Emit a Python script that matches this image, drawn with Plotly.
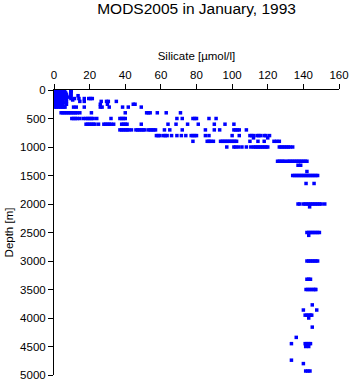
import plotly.graph_objects as go

# Silicate [umol/l] observations grouped by depth level [m]
si_0 = [0.3, 0.8, 1.3, 1.8, 2.3, 2.8, 3.3, 3.8, 4.5, 5.5, 9.5]
si_10 = [0.3, 0.8, 1.3, 1.8, 2.3, 2.8, 3.5, 4.5, 9.5]
si_20 = [0.3, 0.8, 1.3, 1.8, 2.5, 3.2, 4.2, 5.2, 9.5]
si_30 = [0.3, 0.8, 1.3, 1.8, 2.5, 3.2, 4.0, 5.0, 6.0, 9.5]
si_50 = [0.3, 0.8, 1.3, 1.8, 2.5, 3.2, 4.0, 5.0, 6.5, 9.5]
si_75 = [0.3, 0.8, 1.3, 1.8, 2.5, 3.2, 4.0, 5.0, 7.0, 9.5]
si_100 = [0.3, 0.8, 1.3, 1.8, 2.5, 3.2, 4.0, 5.5, 7.0, 9.5, 13.5]
si_125 = [0.3, 0.8, 1.3, 1.8, 2.5, 3.2, 4.0, 5.0, 6.0, 8.0, 9.5]
si_150 = [0.3, 0.8, 1.3, 1.8, 2.5, 3.2, 4.0, 5.0, 6.0, 7.0, 9.5, 11.5, 14, 17, 19.5, 20.5, 21.5]
si_175 = [0.3, 0.8, 1.3, 1.8, 2.5, 3.2, 4.0, 5.0, 10.5]
si_200 = [0.3, 0.8, 1.3, 1.8, 2.5, 3.2, 4.0, 5.0, 7.0, 14.5, 17, 26.5, 29.5, 30.5, 35]
si_225 = [0.3, 0.8, 1.3, 1.8, 2.5, 3.2, 4.0, 6.0]
si_250 = [0.3, 0.8, 1.3, 1.8, 2.5, 3.5, 5.0, 7.0, 26, 30, 44.5, 45.5]
si_300 = [0.5, 1.3, 2.5, 3.5, 4.5, 5.5, 6.2, 11, 12.5, 17, 26, 27, 31, 38.5, 41.7, 49]
si_400 = [4, 5, 6, 7, 8, 9, 10, 11, 12, 13, 14.5, 21, 40, 52, 53, 54, 58, 63, 71]
si_500 = [10, 11, 12, 13, 14.5, 16.5, 18, 19, 20, 21, 22, 24, 32, 37, 38, 39, 40,
          69, 72, 78, 79, 80, 87, 91]
si_600 = [18, 19, 20, 21, 22, 23, 25, 28, 29, 30, 31, 32, 33.5, 38, 39, 40, 41,
          49, 64, 68.5, 75, 81, 90, 96, 101]
si_700 = [37, 38, 39, 40, 41, 42, 43.5, 46, 47, 48, 49, 50, 51, 53, 54, 55, 56, 57,
          62, 65, 72, 85, 90, 93, 101, 102, 103, 104, 108]
si_800 = [57.5, 58.5, 59.5, 61.5, 62.5, 63.5, 66, 69, 71.5, 74, 77, 78, 79, 80, 85,
          87, 100, 104, 110, 111, 112, 114, 115, 116, 118, 119, 121]
si_840 = [112, 120]
si_900 = [78, 86, 87, 88, 89.5, 93.5, 94.5, 95.5, 96.5, 97.5, 98.5, 99.5, 100.5,
          101.5, 102.5, 110, 114.5, 118, 123.5, 125, 126.5]
si_1000 = [97, 101, 102, 103.5, 105.5, 108, 110.5, 112, 113, 114, 115, 116, 117,
           118, 119, 120, 126.5, 127.5, 128.5, 129.5, 130.5, 131.5, 132.5, 134]
si_1250 = [125.5, 126.5, 127.5, 128.5, 129.5, 131, 132, 133, 134, 135, 136, 137,
           138, 139, 140, 141, 142]
si_1320 = [137, 138.5]
si_1430 = [142]
si_1500 = [134, 135, 136, 137, 138, 139, 140, 141, 142, 143, 144, 145, 146, 147, 148]
si_1640 = [141.5, 146]
si_2000 = [137, 138, 140, 141, 142, 143, 144, 145, 146, 147, 148, 149, 150, 152]
si_2050 = [143.5]
si_2500 = [142, 143, 144, 145, 146, 147, 148, 149]
si_2550 = [143]
si_3000 = [142, 143, 144, 145, 146, 147, 148]
si_3320 = [142, 143, 144]
si_3500 = [141.5, 142.5, 143.5, 144.5, 145.5, 146.5, 147]
si_3770 = [145]
si_3860 = [140, 147.5]
si_3950 = [141, 142, 143, 144, 144.7]
si_4000 = [143]
si_4160 = [145]
si_4340 = [136]
si_4450 = [133.3, 141, 142, 143, 144]
si_4500 = [141.3, 143]
si_4740 = [133.3]
si_4800 = [140]
si_4930 = [141.3, 142.5, 143.7]

depth_levels = [0, 10, 20, 30, 50, 75, 100, 125, 150, 175, 200, 225, 250, 300, 400,
                500, 600, 700, 800, 840, 900, 1000, 1250, 1320, 1430, 1500, 1640,
                2000, 2050, 2500, 2550, 3000, 3320, 3500, 3770, 3860, 3950, 4000,
                4160, 4340, 4450, 4500, 4740, 4800, 4930]
silicate_by_level = [si_0, si_10, si_20, si_30, si_50, si_75, si_100, si_125, si_150,
                     si_175, si_200, si_225, si_250, si_300, si_400, si_500, si_600,
                     si_700, si_800, si_840, si_900, si_1000, si_1250, si_1320,
                     si_1430, si_1500, si_1640, si_2000, si_2050, si_2500, si_2550,
                     si_3000, si_3320, si_3500, si_3770, si_3860, si_3950, si_4000,
                     si_4160, si_4340, si_4450, si_4500, si_4740, si_4800, si_4930]

xs, ys = [], []
for d, vals in zip(depth_levels, silicate_by_level):
    for v in vals:
        xs.append(v)
        ys.append(d)

x_ticks = [0, 20, 40, 60, 80, 100, 120, 140, 160]
y_ticks = [0, 500, 1000, 1500, 2000, 2500, 3000, 3500, 4000, 4500, 5000]

FONT = "Liberation Sans, Arial, Helvetica, sans-serif"

fig = go.Figure(go.Scatter(
    x=xs, y=ys, mode="markers",
    marker=dict(symbol="square", size=3.5, color="#0000ff", line=dict(width=0)),
    hoverinfo="x+y",
))

fig.update_layout(
    width=351, height=384,
    margin=dict(l=54, r=12, t=90, b=9, autoexpand=False),
    paper_bgcolor="white", plot_bgcolor="white",
    showlegend=False,
    font=dict(family=FONT, color="black", size=11),
    title=dict(text="MODS2005 in January, 1993", x=0.56, xanchor="center",
               y=0.992, yanchor="top", font=dict(family=FONT, size=15.5, color="black")),
    xaxis=dict(
        side="top", range=[0, 160], tickvals=x_ticks,
        ticktext=[str(t) for t in x_ticks], automargin=False,
        showgrid=False, zeroline=False, showline=True, linecolor="black",
        linewidth=1, ticks="outside", ticklen=5, tickcolor="black",
        tickfont=dict(size=11.5),
        title=dict(text="Silicate [µmol/l]", font=dict(size=11.5), standoff=6),
    ),
    yaxis=dict(
        range=[5000, 0], tickvals=y_ticks, ticktext=[str(t) for t in y_ticks],
        automargin=False,
        showgrid=False, zeroline=False, showline=True, linecolor="black",
        linewidth=1, ticks="outside", ticklen=5, tickcolor="black",
        tickfont=dict(size=11.5),
        title=dict(text="Depth [m]", font=dict(size=11.5), standoff=4),
    ),
)

fig.write_html("out.html")
